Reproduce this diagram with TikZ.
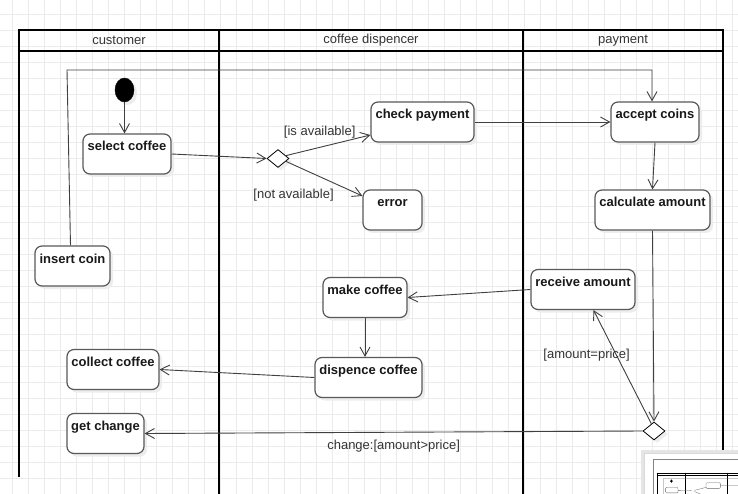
\documentclass[tikz,border=0pt]{standalone}
\usepackage{fontspec}
\setmainfont{Liberation Sans}
\usetikzlibrary{arrows.meta,shapes.geometric,shadows}

\begin{document}
\begin{tikzpicture}[x=1pt, y=-1pt,
            every node/.style = {font=\fontsize{13pt}{15pt}\selectfont, text=black!80},
            gridline/.style = {draw=black!8, line width=0.8pt},
            lane/.style = {line width=2pt},
            shade/.style = {drop shadow={shadow xshift=3pt, shadow yshift=-3pt, fill=black!7, opacity=1}},
            act/.style = {draw=black!65, line width=1.2pt, fill=white, rounded corners=7pt, shade,
                minimum height=40pt, inner xsep=2pt, inner ysep=2pt, text height=15pt, text depth=21pt,
                font=\fontsize{13pt}{15pt}\selectfont\bfseries, text=black!90},
            choice/.style = {draw=black, line width=0.8pt, fill=white, diamond, inner sep=0pt,
                minimum width=22pt, minimum height=18pt, shade},
            flow/.style = {draw=black!75, line width=0.9pt, -{Straight Barb[length=9pt, width=10pt]}},
            guard/.style = {inner sep=1pt}]
\useasboundingbox (0,0) rectangle (738,494);
\begin{scope}
\clip (0,0) rectangle (738,494);
% background grid
\fill[white] (0,0) rectangle (738,494);
\foreach \gx in {12,28,...,732}
    \draw[gridline] (\gx,0) -- (\gx,494);
\foreach \gy in {14.7,30.7,...,494}
    \draw[gridline] (0,\gy) -- (738,\gy);

% swimlanes
\draw[lane] (19,477) -- (19,30) -- (723,30) -- (723,494);
\draw[lane] (19,51) -- (723,51);
\draw[lane] (219,30) -- (219,494);
\draw[lane] (523,30) -- (523,494);
\node (hcust) at (119,40.5) {customer};
\node (hdisp) at (371,40.5) {coffee dispencer};
\node (hpay) at (623,40.5) {payment};

% activities
\node[draw, fill=black, ellipse, minimum width=19pt, minimum height=24pt, inner sep=0pt, shade] (start) at (124.5,90) {};
\node[act, minimum width=88pt] (select) at (127,154) {select coffee};
\node[act, minimum width=75pt] (insert) at (72.5,266) {insert coin};
\node[act, minimum width=103pt] (check) at (422.5,122) {check payment};
\node[act, minimum width=59pt] (error) at (392.5,210) {error};
\node[act, minimum width=88pt] (accept) at (655,122) {accept coins};
\node[act, minimum width=115pt] (calc) at (652.5,210) {calculate amount};
\node[act, minimum width=104pt] (receive) at (583,289.5) {receive amount};
\node[act, minimum width=84pt] (make) at (365,297.5) {make coffee};
\node[act, minimum width=107pt] (dispence) at (368.5,377.5) {dispence coffee};
\node[act, minimum width=92pt] (collect) at (113,369.5) {collect coffee};
\node[act, minimum width=77pt] (change) at (105.5,433.5) {get change};
\node[choice] (avail) at (278,158.5) {};
\node[choice] (paid) at (654,431) {};
\coordinate (bend) at (67,70);

% flows
\draw[flow] (start.south) -- (start.south |- select.north);
\draw[flow] (select.east) -- (avail.west);
\draw[flow] (avail.20) -- (check.194)
    node[guard, pos=0.4, above=8pt] {[is available]};
\draw[flow] (avail.-20) -- (error.155)
    node[guard, pos=0.1, below=23pt] {[not available]};
\draw[flow] (check.east) -- (accept.west);
\draw[flow] ([xshift=-2pt]insert.north) -- (bend) -| ([xshift=-3pt]accept.north);
\draw[flow] (accept.south) -- (calc.north);
\draw[flow] (calc.south) -- (paid.north);
\draw[flow] (paid.110) -- (receive.-63)
    node[guard, pos=0.6, xshift=-30pt] {[amount=price]};
\draw[flow] (receive.west) -- (make.east);
\draw[flow] (make.south) -- (make.south |- dispence.north);
\draw[flow] (dispence.west) -- (collect.east);
\draw[flow] (paid.west) -- (change.east)
    node[guard, midway, below=6pt] {change:[amount>price]};

% outline view
\fill[white, drop shadow={shadow xshift=-3pt, shadow yshift=3pt, fill=black!10, opacity=1}] (644,453) rectangle (760,510);
\draw[black!15] (644,453) rectangle (760,510);
\begin{scope}[shift={(654,468.5)}, scale=0.14, line width=0.3pt]
    \draw (19,30) -- (723,30) (19,51) -- (723,51);
    \draw (19,30) -- (19,494) (219,30) -- (219,494) (523,30) -- (523,494);
    \fill (124.5,90) ellipse (9.5 and 12);
    \draw[black!60, rounded corners=1pt] (83,134) rectangle (171,174) (371,102) rectangle (474,142)
        (363,190) rectangle (422,230) (35,246) rectangle (110,286);
    \draw[black!60] (171,156) -- (267,158) (289,156) -- (371,135) (289,164) -- (363,196)
        (474,122) -- (611,122) (70,246) -- (70,70) -- (652,70);
\end{scope}
\draw[line width=1pt, color={rgb,255:red,74;green,144;blue,226}] (653,459) rectangle (760,510);
\end{scope}
\end{tikzpicture}
\end{document}
